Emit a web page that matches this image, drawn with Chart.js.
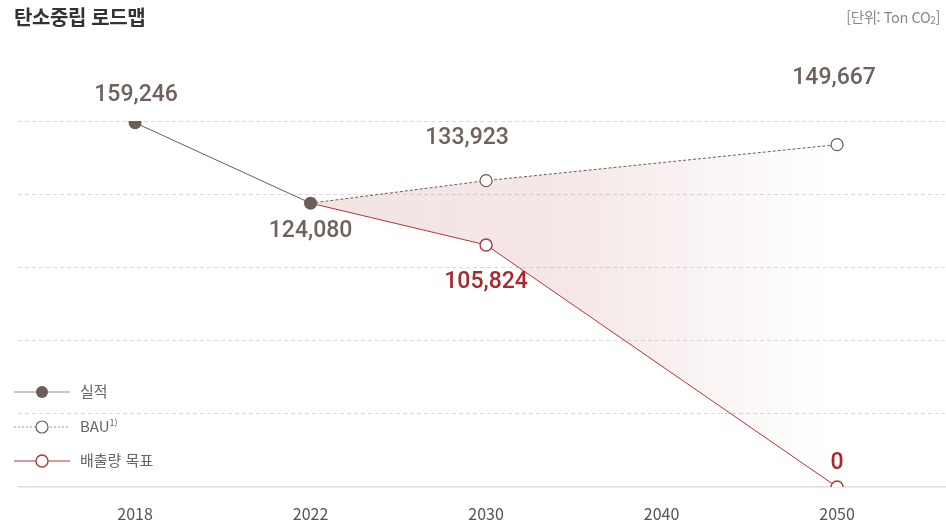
<!DOCTYPE html>
<html lang="ko">
<head>
<meta charset="utf-8">
<script src="https://cdn.jsdelivr.net/npm/chart.js@4"></script>
<style>
  html, body { margin: 0; padding: 0; background: #fff; }
  #wrap { position: relative; width: 946px; height: 526px; overflow: hidden; font-family: "Noto Sans CJK KR", "Noto Sans", sans-serif; }
  #roadmap { position: absolute; left: 0; top: 0; }
  .title { position: absolute; left: 14px; top: 2px; font-size: 20px; font-weight: 700; color: #333; letter-spacing: -0.4px; }
  .unit { position: absolute; right: 6px; top: 6px; font-size: 14.5px; color: #888; letter-spacing: -0.4px; }
  .unit sub { font-size: 10px; vertical-align: -1px; }
  .legend { position: absolute; left: 14px; top: 380px; }
  .legend .item { position: relative; height: 34.5px; }
  .legend svg { position: absolute; left: 0; top: 0; }
  .legend span { position: absolute; left: 66px; top: 0; font-size: 15px; color: #666; white-space: nowrap; }
  .legend sup { font-size: 9px; }
</style>
</head>
<body>
<div id="wrap">
  <canvas id="roadmap" width="946" height="526"></canvas>
  <div class="title">탄소중립 로드맵</div>
  <div class="unit">[단위: Ton CO<sub>2</sub>]</div>
  <div class="legend">
    <div class="item">
      <svg width="60" height="24"><line x1="0" y1="12" x2="56" y2="12" stroke="#9a8f8b" stroke-width="1.2"/><circle cx="28" cy="12" r="6" fill="#6b5d58"/></svg>
      <span>실적</span>
    </div>
    <div class="item">
      <svg width="60" height="24"><line x1="0" y1="12" x2="56" y2="12" stroke="#9a8f8b" stroke-width="1" stroke-dasharray="2,2"/><circle cx="28" cy="12" r="6" fill="#fff" stroke="#6b5d58" stroke-width="1.2"/></svg>
      <span>BAU<sup>1)</sup></span>
    </div>
    <div class="item">
      <svg width="60" height="24"><line x1="0" y1="12" x2="56" y2="12" stroke="#b5353a" stroke-width="1.2"/><circle cx="28" cy="12" r="6" fill="#fff" stroke="#b5353a" stroke-width="1.4"/></svg>
      <span>배출량 목표</span>
    </div>
  </div>
</div>
<script>
// years on the x axis (2040 has no point of its own)
const years = ['2018', '2022', '2030', '2040', '2050'];

// emissions, Ton CO2 — index into years
const actualIdx = [0, 1];
const actualVals = [159246, 124080];
const bauIdx = [1, 2, 4];
const bauVals = [124080, 133923, 149667];
const targetIdx = [1, 2, 4];
const targetVals = [124080, 105824, 0];

const BROWN = '#6b5d58';
const RED = '#b5353a';

const toPoints = (idx, vals) => idx.map((i, k) => ({ x: i, y: vals[k] }));

// value labels: which dataset/point, where it sits relative to the point, colour
const labelSpec = [
  { ds: 0, i: 0, dx: 1, dy: -27, color: '#6f625d' },
  { ds: 0, i: 1, dx: 0, dy: 28, color: '#6f625d' },
  { ds: 1, i: 1, dx: -19, dy: -42, color: '#6f625d' },
  { ds: 1, i: 2, dx: -3, dy: -66, color: '#6f625d' },
  { ds: 2, i: 1, dx: 0, dy: 37, color: '#a8282d' },
  { ds: 2, i: 2, dx: 0, dy: -24, color: '#a8282d' }
];

const valueLabels = {
  id: 'valueLabels',
  afterDatasetsDraw(chart) {
    const ctx = chart.ctx;
    ctx.save();
    ctx.font = '500 23px Roboto, "DejaVu Sans", sans-serif';
    ctx.textAlign = 'center';
    ctx.textBaseline = 'middle';
    labelSpec.forEach(l => {
      const pt = chart.getDatasetMeta(l.ds).data[l.i];
      const v = chart.data.datasets[l.ds].data[l.i].y;
      ctx.fillStyle = l.color;
      ctx.fillText(v.toLocaleString('en-US'), pt.x + l.dx, pt.y + l.dy);
    });
    ctx.restore();
  }
};

// band between BAU and target: flat pink, then fading out towards 2050
function bandFill(context) {
  const chart = context.chart;
  const { chartArea } = chart;
  if (!chartArea) return 'rgba(200,130,130,0.2)';
  const xs = chart.scales.x;
  const g = chart.ctx.createLinearGradient(xs.getPixelForValue(1), 0, xs.getPixelForValue(4), 0);
  g.addColorStop(0, 'rgba(200,130,130,0.22)');
  g.addColorStop(0.5, 'rgba(200,130,130,0.19)');
  g.addColorStop(0.9, 'rgba(200,130,130,0.03)');
  g.addColorStop(1, 'rgba(200,130,130,0)');
  return g;
}

new Chart(document.getElementById('roadmap'), {
  type: 'line',
  data: {
    datasets: [
      {
        label: '실적',
        data: toPoints(actualIdx, actualVals),
        borderColor: BROWN,
        borderWidth: 1,
        pointRadius: 6.5,
        pointBackgroundColor: BROWN,
        pointBorderWidth: 0,
        fill: false
      },
      {
        label: 'BAU',
        data: toPoints(bauIdx, bauVals),
        borderColor: BROWN,
        borderWidth: 1,
        borderDash: [3, 2],
        pointRadius: [0, 6, 6],
        pointBackgroundColor: '#fff',
        pointBorderColor: BROWN,
        pointBorderWidth: 1.2,
        fill: false
      },
      {
        label: '배출량 목표',
        data: toPoints(targetIdx, targetVals),
        borderColor: RED,
        borderWidth: 1,
        pointRadius: [0, 6, 6],
        pointBackgroundColor: '#fff',
        pointBorderColor: RED,
        pointBorderWidth: 1.4,
        fill: { target: 1 },
        backgroundColor: bandFill
      }
    ]
  },
  options: {
    responsive: false,
    animation: false,
    layout: { autoPadding: false, padding: { top: 121, left: 18, right: 1, bottom: 0 } },
    plugins: { legend: { display: false }, tooltip: { enabled: false } },
    scales: {
      x: {
        type: 'linear',
        min: -0.667,
        max: 4.615,
        afterBuildTicks: (s) => { s.ticks = years.map((_, i) => ({ value: i })); },
        afterFit: (s) => { s.height = 39; },
        grid: { display: false },
        border: { display: true, color: '#dcdcdc', width: 1.5 },
        ticks: {
          padding: 9,
          color: '#555',
          font: { family: '"Noto Sans CJK KR", "Noto Sans", sans-serif', size: 16 },
          callback: (v) => years[v]
        }
      },
      y: {
        min: 0,
        max: 160000,
        afterFit: (s) => { s.width = 0; },
        ticks: { display: false, stepSize: 32000 },
        grid: {
          drawTicks: false,
          color: (c) => c.tick && c.tick.value === 0 ? 'rgba(0,0,0,0)' : '#dadada',
          lineWidth: 1
        },
        border: { display: false, dash: [4, 3] }
      }
    }
  },
  plugins: [valueLabels]
});
</script>
</body>
</html>
